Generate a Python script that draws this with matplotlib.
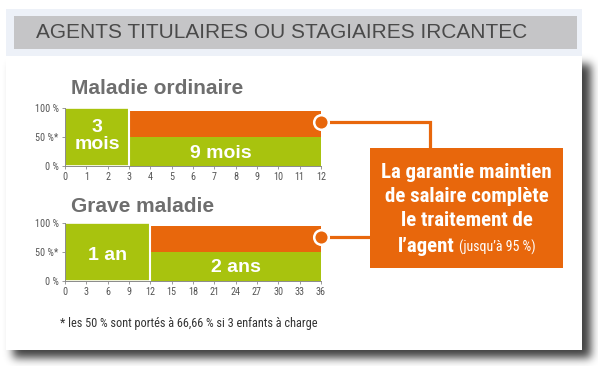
import numpy as np
import matplotlib
matplotlib.use("Agg")
import matplotlib.pyplot as plt
from matplotlib.patches import Rectangle
from matplotlib import font_manager as fm

# data
header = "AGENTS TITULAIRES OU STAGIAIRES IRCANTEC"
ordinaire_title = "Maladie ordinaire"
ordinaire_starts = [0, 3]
ordinaire_widths = [3, 9]
ordinaire_labels = ["3\nmois", "9 mois"]
ordinaire_xticks = list(range(0, 13))
grave_title = "Grave maladie"
grave_starts = [0, 12]
grave_widths = [12, 24]
grave_labels = ["1 an", "2 ans"]
grave_xticks = list(range(0, 37, 3))
salary_pct = [100, 50]      # plein traitement puis demi-traitement
garantie_top = 95           # complément jusqu'à 95 %
yticks = [0, 50, 100]
ytick_labels = ["0 %", "50 %*", "100 %"]
box_lines = ["La garantie maintien", "de salaire complète", "le traitement de"]
box_last = ["l’agent", "(jusqu’à 95 %)"]
footnote = "* les 50 % sont portés à 66,66 % si 3 enfants à charge"

GREEN = "#a8c30e"
ORANGE = "#e8670c"
W, H = 598, 366

# condensed font if there is one, else plain DejaVu a bit smaller
installed = {f.name for f in fm.fontManager.ttflist}
narrow = [f for f in ["Roboto Condensed", "Barlow Condensed", "Archivo Narrow",
                      "Liberation Sans Narrow"] if f in installed]
scale = 1.0
if not narrow:
    scale = 0.8
narrow = narrow[:1] + ["DejaVu Sans"]

fig = plt.figure(figsize=(W / 100, H / 100), dpi=100)
fig.patch.set_facecolor("white")

# background layer in pixel coordinates
bg = fig.add_axes([0, 0, 1, 1], zorder=0)
bg.set_xlim(0, W)
bg.set_ylim(H, 0)
bg.axis("off")

# soft shadow of the card
yy, xx = np.mgrid[0:H, 0:W]
mask = ((xx >= 13) & (xx <= 590) & (yy >= 64) & (yy <= 357)).astype(float)
k = np.exp(-0.5 * (np.arange(-14, 15) / 4.5) ** 2)
k /= k.sum()
mask = np.apply_along_axis(lambda r: np.convolve(r, k, mode="same"), 1, mask)
mask = np.apply_along_axis(lambda c: np.convolve(c, k, mode="same"), 0, mask)
shadow = np.zeros((H, W, 4))
shadow[..., 3] = 0.75 * mask
bg.imshow(shadow, extent=(0, W, H, 0), origin="upper", aspect="auto", zorder=0)
bg.set_xlim(0, W)
bg.set_ylim(H, 0)

bg.add_patch(Rectangle((6, 56), 576, 294, facecolor="white", edgecolor="none", zorder=1))
bg.add_patch(Rectangle((6, 9), 576, 47, facecolor="#edf1f8", edgecolor="none", zorder=1))
bg.add_patch(Rectangle((14, 16), 563, 33, facecolor="#c5c5c7", edgecolor="none", zorder=2))
bg.text(36, 33, header, fontsize=15, color="#4a4a4a", family="Liberation Sans",
        ha="left", va="center", zorder=3)

bg.text(71, 88, ordinaire_title, fontsize=15, color="#6e6e6e", weight="bold",
        family="Liberation Sans", ha="left", va="center", zorder=3)
bg.text(71, 206, grave_title, fontsize=15, color="#6e6e6e", weight="bold",
        family="Liberation Sans", ha="left", va="center", zorder=3)
bg.text(60, 323, footnote, fontsize=8.8 * scale, color="#333333",
        family=narrow, ha="left", va="center", zorder=3)


def panel(top_px, starts, widths, labels, xticks, label_pos):
    ax = fig.add_axes([65 / W, 1 - (top_px + 58) / H, 256 / W, 58 / H], zorder=2)
    ax.patch.set_visible(False)
    ax.bar(starts[0], salary_pct[0], width=widths[0], align="edge", color=GREEN,
           edgecolor="white", linewidth=1.2)
    ax.bar(starts[1], salary_pct[1], width=widths[1], align="edge", color=GREEN,
           edgecolor="none")
    ax.bar(starts[1], garantie_top - salary_pct[1], bottom=salary_pct[1], width=widths[1],
           align="edge", color=ORANGE, edgecolor="none")
    ax.axvline(starts[1], color="white", lw=1.5)
    ax.set_xlim(xticks[0], xticks[-1])
    ax.set_ylim(0, 100)
    ax.set_xticks(xticks)
    ax.set_xticklabels([str(t) for t in xticks])
    ax.set_yticks(yticks)
    ax.set_yticklabels(ytick_labels)
    for s in ["top", "right"]:
        ax.spines[s].set_visible(False)
    for s in ["left", "bottom"]:
        ax.spines[s].set_color("#8a8a8a")
        ax.spines[s].set_linewidth(0.7)
    ax.tick_params(length=2.5, width=0.6, color="#8a8a8a", labelcolor="#555555",
                   labelsize=7.3 * scale, pad=2)
    for lab in ax.get_xticklabels() + ax.get_yticklabels():
        lab.set_family(narrow)
    for txt, (x, y) in zip(labels, label_pos):
        ax.text(x, y, txt, color="white", weight="bold", fontsize=14,
                family="Liberation Sans", ha="center", va="center", linespacing=1.0)
    return ax


ax1 = panel(108, ordinaire_starts, ordinaire_widths, ordinaire_labels, ordinaire_xticks,
            [(1.5, 51), (7.3, 22)])
ax2 = panel(223, grave_starts, grave_widths, grave_labels, grave_xticks,
            [(6, 44), (24, 23)])

# foreground: connectors, circles, box
fg = fig.add_axes([0, 0, 1, 1], zorder=3)
fg.set_xlim(0, W)
fg.set_ylim(H, 0)
fg.axis("off")
fg.patch.set_visible(False)

to_px = fg.transData.inverted()
p1 = to_px.transform(ax1.transData.transform((ordinaire_xticks[-1], 76)))
p2 = to_px.transform(ax2.transData.transform((grave_xticks[-1], 76)))

box_x0, box_x1, box_y0, box_y1 = 370, 563, 148, 268
fg.plot([p1[0], 430, 430], [p1[1], p1[1], box_y0 + 2], color=ORANGE, lw=2.3,
        solid_joinstyle="miter", zorder=1)
fg.plot([p2[0], box_x0 + 2], [p2[1], p2[1]], color=ORANGE, lw=2.3, zorder=1)
for p in (p1, p2):
    fg.plot(p[0], p[1], "o", ms=10.5, mfc=ORANGE, mec="white", mew=1.8, zorder=3)

fg.add_patch(Rectangle((box_x0, box_y0), box_x1 - box_x0, box_y1 - box_y0,
                       facecolor=ORANGE, edgecolor="none", zorder=2))
cx = (box_x0 + box_x1) / 2
for i, line in enumerate(box_lines):
    fg.text(cx, 173 + 24 * i, line, color="white", weight="bold", fontsize=15 * scale,
            family=narrow, ha="center", va="center", zorder=4)
fg.text(455, 252, box_last[0], color="white", weight="bold", fontsize=15 * scale,
        family=narrow, ha="right", va="baseline", zorder=4)
fg.text(459, 252, box_last[1], color="white", fontsize=10 * scale,
        family=narrow, ha="left", va="baseline", zorder=4)

fig.savefig("out.png", dpi=100)
